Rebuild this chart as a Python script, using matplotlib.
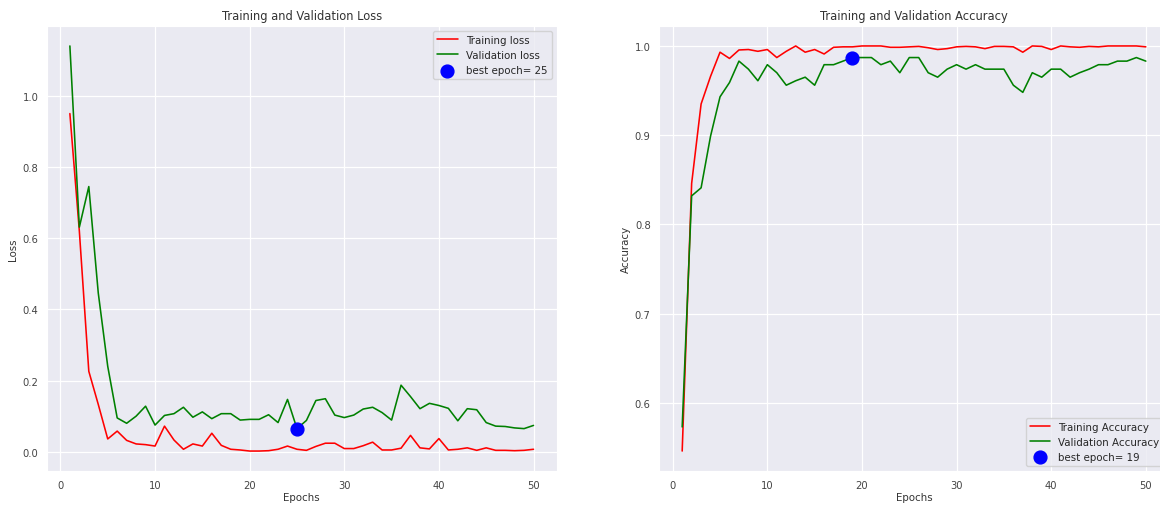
import matplotlib
matplotlib.use("Agg")
import matplotlib.pyplot as plt
import seaborn as sns

# valeurs (50 epochs)
epochs = list(range(1, 51))

tr_loss = [0.950, 0.620, 0.226, 0.133, 0.036, 0.058, 0.032, 0.022, 0.020, 0.016,
           0.072, 0.033, 0.007, 0.022, 0.016, 0.052, 0.018, 0.007, 0.005, 0.002,
           0.002, 0.003, 0.007, 0.016, 0.007, 0.004, 0.015, 0.024, 0.024, 0.009,
           0.009, 0.017, 0.027, 0.005, 0.005, 0.010, 0.046, 0.011, 0.008, 0.037,
           0.005, 0.007, 0.011, 0.004, 0.011, 0.004, 0.004, 0.003, 0.004, 0.007]
val_loss = [1.140, 0.631, 0.745, 0.446, 0.240, 0.095, 0.080, 0.100, 0.128, 0.075,
            0.102, 0.107, 0.125, 0.097, 0.112, 0.093, 0.107, 0.107, 0.089, 0.091,
            0.091, 0.104, 0.082, 0.147, 0.065, 0.088, 0.144, 0.149, 0.103, 0.096,
            0.103, 0.120, 0.125, 0.110, 0.089, 0.187, 0.155, 0.121, 0.136, 0.130,
            0.122, 0.087, 0.121, 0.118, 0.082, 0.072, 0.071, 0.067, 0.065, 0.074]

tr_acc = [0.546, 0.846, 0.935, 0.966, 0.993, 0.986, 0.9955, 0.996, 0.994, 0.996,
          0.987, 0.994, 1.000, 0.993, 0.996, 0.991, 0.9985, 0.999, 0.999, 1.000,
          1.000, 1.000, 0.9985, 0.9985, 0.999, 0.9995, 0.998, 0.996, 0.997, 0.999,
          0.9995, 0.999, 0.997, 0.9995, 0.9995, 0.999, 0.993, 1.000, 0.9995, 0.996,
          1.000, 0.999, 0.9985, 0.9995, 0.999, 1.000, 1.000, 1.000, 1.000, 0.999]
val_acc = [0.573, 0.832, 0.841, 0.899, 0.943, 0.959, 0.983, 0.974, 0.961, 0.979,
           0.970, 0.956, 0.961, 0.965, 0.956, 0.979, 0.979, 0.983, 0.987, 0.987,
           0.987, 0.979, 0.983, 0.970, 0.987, 0.987, 0.970, 0.965, 0.974, 0.979,
           0.974, 0.979, 0.974, 0.974, 0.974, 0.956, 0.948, 0.970, 0.965, 0.974,
           0.974, 0.965, 0.970, 0.974, 0.979, 0.979, 0.983, 0.983, 0.987, 0.983]

best_loss_epoch = 25
best_acc_epoch = 19

sns.set_style("darkgrid")
plt.rcParams["font.family"] = ["DejaVu Sans"]

fig = plt.figure(figsize=(11.6, 5.06), dpi=100)
W, H = 1160, 506
ax1 = fig.add_axes([46.7 / W, (H - 472.3) / H, 510 / W, 445.6 / H])
ax2 = fig.add_axes([659 / W, (H - 472.3) / H, 510 / W, 445.6 / H])

lw = 1.15
tick_fs = 7.2
lab_fs = 7.4
ink = "#333333"

# Loss
ax1.plot(epochs, tr_loss, "r", lw=lw, label="Training loss")
ax1.plot(epochs, val_loss, "g", lw=lw, label="Validation loss")
ax1.scatter(best_loss_epoch, val_loss[best_loss_epoch - 1], s=85, c="blue",
            label="best epoch= " + str(best_loss_epoch), zorder=3)
ax1.set_title("Training and Validation Loss", fontsize=8.3, color=ink, pad=5)
ax1.set_xlabel("Epochs", fontsize=lab_fs, color=ink, labelpad=2)
ax1.set_ylabel("Loss", fontsize=lab_fs, color=ink, labelpad=3)
ax1.legend(loc="upper right", fontsize=7.4)

# Accuracy
ax2.plot(epochs, tr_acc, "r", lw=lw, label="Training Accuracy")
ax2.plot(epochs, val_acc, "g", lw=lw, label="Validation Accuracy")
ax2.scatter(best_acc_epoch, val_acc[best_acc_epoch - 1], s=85, c="blue",
            label="best epoch= " + str(best_acc_epoch), zorder=3)
ax2.set_title("Training and Validation Accuracy", fontsize=8.3, color=ink, pad=5)
ax2.set_xlabel("Epochs", fontsize=lab_fs, color=ink, labelpad=2)
ax2.set_ylabel("Accuracy", fontsize=lab_fs, color=ink, labelpad=3)
ax2.legend(loc="lower right", fontsize=7.4)

for ax in (ax1, ax2):
    ax.tick_params(labelsize=tick_fs, labelcolor="#444444", pad=2.5)
    ax.grid(True, color="white", lw=0.9)

fig.savefig("out.png", dpi=100)
